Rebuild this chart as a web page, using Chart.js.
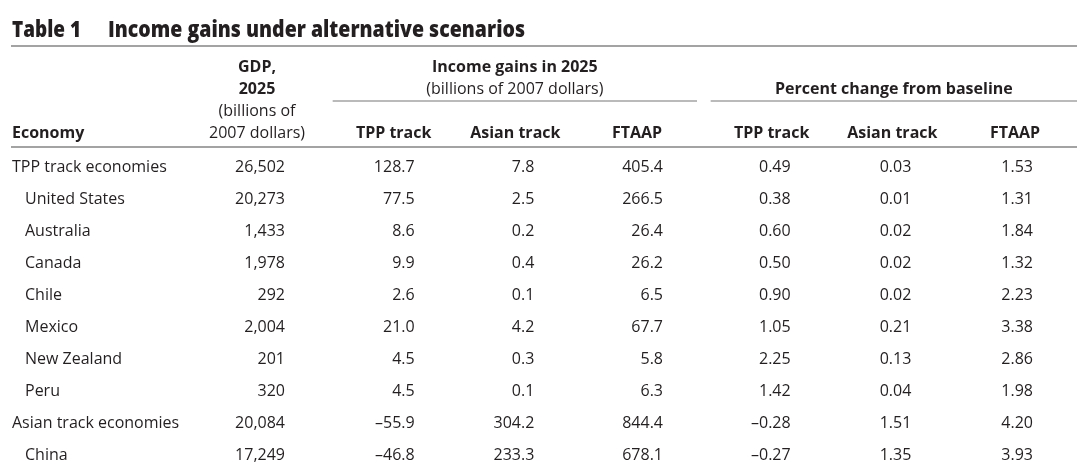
<!DOCTYPE html>
<html>
<head>
<meta charset="utf-8">
<title>Income gains under alternative scenarios</title>
<script src="https://cdn.jsdelivr.net/npm/chart.js@4.4.1/dist/chart.umd.min.js"></script>
<style>
    html, body { margin: 0; padding: 0; background: #fff; }
    canvas { display: block; }
</style>
</head>
<body>
<canvas id="incomeTable" width="1077" height="468"></canvas>
<script>
// Table values (billions of 2007 dollars / percent)
const economies = ['TPP track economies', 'United States', 'Australia', 'Canada', 'Chile', 'Mexico', 'New Zealand', 'Peru', 'Asian track economies', 'China'];
const groupRows = ['TPP track economies', 'Asian track economies'];
const gdp2025 = [26502, 20273, 1433, 1978, 292, 2004, 201, 320, 20084, 17249];
const gainTpp = [128.7, 77.5, 8.6, 9.9, 2.6, 21.0, 4.5, 4.5, -55.9, -46.8];
const gainAsian = [7.8, 2.5, 0.2, 0.4, 0.1, 4.2, 0.3, 0.1, 304.2, 233.3];
const gainFtaap = [405.4, 266.5, 26.4, 26.2, 6.5, 67.7, 5.8, 6.3, 844.4, 678.1];
const pctTpp = [0.49, 0.38, 0.60, 0.50, 0.90, 1.05, 2.25, 1.42, -0.28, -0.27];
const pctAsian = [0.03, 0.01, 0.02, 0.02, 0.02, 0.21, 0.13, 0.04, 1.51, 1.35];
const pctFtaap = [1.53, 1.31, 1.84, 1.32, 2.23, 3.38, 2.86, 1.98, 4.20, 3.93];
const scenarioLabels = ['TPP track', 'Asian track', 'FTAAP'];

const columns = [
    { values: gdp2025, decimals: 0 },
    { values: gainTpp, decimals: 1 },
    { values: gainAsian, decimals: 1 },
    { values: gainFtaap, decimals: 1 },
    { values: pctTpp, decimals: 2 },
    { values: pctAsian, decimals: 2 },
    { values: pctFtaap, decimals: 2 }
];

// layout / style
const INK = '#231f20';
const RULE = '#a3a3a3';
const FONT = '"Open Sans", "Noto Sans", sans-serif';
const colNudge = [0, 5, 0, 4, 7, 3, 0];        // fine tune right edges
const headShift = [-28, -21, -19, -26, -19, -19, -18]; // header centre vs right edge
const DY = 2;                                   // text centre correction

function fmt(v, decimals) {
    let s = decimals === 0
        ? Math.abs(v).toLocaleString('en-US')
        : Math.abs(v).toFixed(decimals);
    return v < 0 ? '\u2013' + s : s;
}

// draw left-aligned text squeezed to a given width
function fitText(ctx, text, x, y, width) {
    const w = ctx.measureText(text).width;
    ctx.save();
    ctx.translate(x, y);
    ctx.scale(width / w, 1);
    ctx.fillText(text, 0, 0);
    ctx.restore();
}

const tablePlugin = {
    id: 'tableText',
    afterDatasetsDraw(chart) {
        const ctx = chart.ctx;
        const x = chart.scales.x;
        const y = chart.scales.y;
        const W = chart.width;
        const colRight = i => x.getPixelForValue(i) + colNudge[i];

        ctx.save();
        ctx.fillStyle = INK;
        ctx.textBaseline = 'alphabetic';

        // title
        ctx.font = '800 23px ' + FONT;
        ctx.textAlign = 'left';
        fitText(ctx, 'Table 1', 12, 37, 69);
        fitText(ctx, 'Income gains under alternative scenarios', 108, 37, 417);

        // rules
        const rule = (x1, x2, yy, w) => {
            ctx.strokeStyle = RULE;
            ctx.lineWidth = w;
            ctx.beginPath();
            ctx.moveTo(x1, yy);
            ctx.lineTo(x2, yy);
            ctx.stroke();
        };
        rule(11, W, 46, 2);
        rule(11, W, 147, 2);
        const incL = colRight(1) - 82, incR = colRight(3) + 34;
        const pctL = colRight(4) - 80, pctR = W;
        rule(incL, incR, 101, 1.5);
        rule(pctL, pctR, 101, 1.5);

        ctx.textBaseline = 'middle';
        ctx.textAlign = 'center';

        // GDP header
        const gdpC = colRight(0) + headShift[0];
        ctx.font = 'bold 16px ' + FONT;
        ctx.fillText('GDP,', gdpC, 65 + DY);
        ctx.fillText('2025', gdpC, 87 + DY);
        ctx.font = '16px ' + FONT;
        ctx.fillText('(billions of', gdpC, 109 + DY);
        ctx.fillText('2007 dollars)', gdpC, 131 + DY);

        // spanning headers
        ctx.font = 'bold 16px ' + FONT;
        ctx.fillText('Income gains in 2025', (incL + incR) / 2, 65 + DY);
        ctx.fillText('Percent change from baseline', (pctL + pctR) / 2, 87 + DY);
        ctx.font = '16px ' + FONT;
        ctx.fillText('(billions of 2007 dollars)', (incL + incR) / 2, 87 + DY);

        // column headers
        ctx.font = 'bold 16px ' + FONT;
        ctx.textAlign = 'left';
        ctx.fillText('Economy', 12, 131 + DY);
        ctx.textAlign = 'center';
        for (let i = 1; i < columns.length; i++) {
            ctx.fillText(scenarioLabels[(i - 1) % 3], colRight(i) + headShift[i], 131 + DY);
        }

        // row labels
        ctx.font = '16px ' + FONT;
        ctx.textAlign = 'left';
        economies.forEach((name, r) => {
            const indent = groupRows.includes(name) ? 12 : 25;
            ctx.fillText(name, indent, y.getPixelForValue(r) + DY);
        });

        // cells
        ctx.textAlign = 'right';
        chart.data.datasets.forEach((ds, i) => {
            const meta = chart.getDatasetMeta(i);
            meta.data.forEach((pt, r) => {
                ctx.fillText(fmt(ds.data[r].v, columns[i].decimals), pt.x + colNudge[i], pt.y + DY);
            });
        });
        ctx.restore();
    }
};

new Chart(document.getElementById('incomeTable'), {
    type: 'scatter',
    data: {
        labels: economies,
        datasets: columns.map((c, i) => ({
            label: 'col' + i,
            data: c.values.map((v, r) => ({ x: i, y: economies[r], v: v })),
            pointRadius: 0,
            pointHoverRadius: 0
        }))
    },
    options: {
        responsive: false,
        animation: false,
        events: [],
        layout: { padding: { left: 285, right: 44, top: 165, bottom: 15 } },
        plugins: { legend: { display: false }, tooltip: { enabled: false } },
        scales: {
            x: { type: 'linear', min: 0, max: 6, display: false },
            y: { type: 'category', labels: economies, offset: false, display: false }
        }
    },
    plugins: [tablePlugin]
});
</script>
</body>
</html>
